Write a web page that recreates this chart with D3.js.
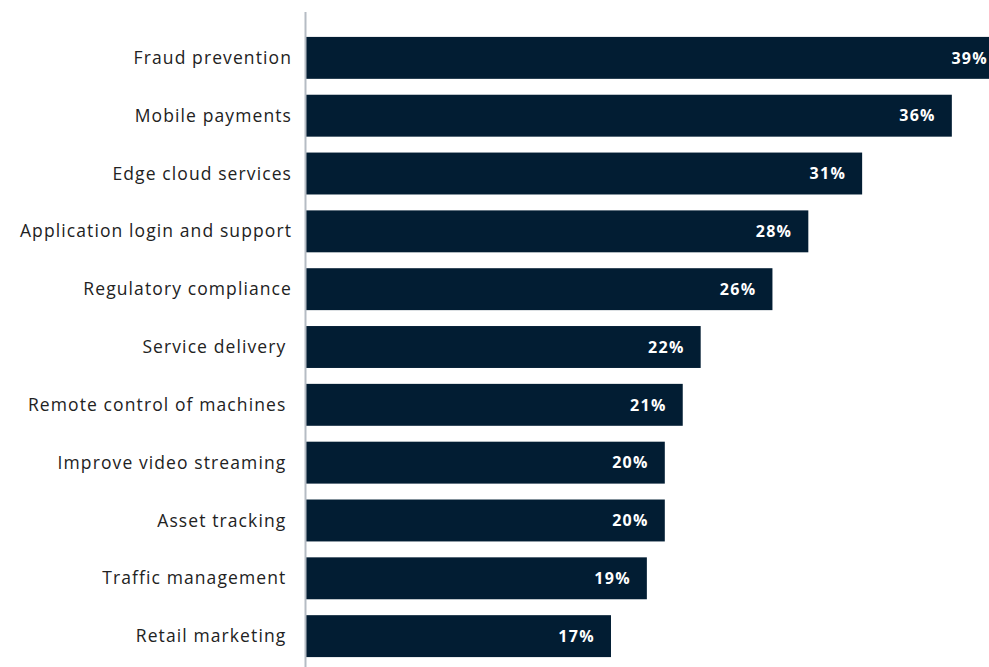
<!DOCTYPE html>
<html>
<head>
<meta charset="utf-8">
<script src="https://cdn.jsdelivr.net/npm/d3@7"></script>
<style>
  html, body { margin: 0; padding: 0; background: #fff; }
  svg { display: block; }
  .cat { white-space: pre; }
</style>
</head>
<body>
<svg id="chart" width="989" height="667"></svg>
<script>
// Use cases, top to bottom
const categories = [
  "Fraud prevention",
  "Mobile payments",
  "Edge cloud services",
  "Application login and support",
  "Regulatory compliance",
  "Service delivery ",
  "Remote control of machines ",
  "Improve video streaming ",
  "Asset tracking ",
  "Traffic management ",
  "Retail marketing "
];
// Share of respondents (%)
const values = [39, 36, 31, 28, 26, 22, 21, 20, 20, 19, 17];

const width = 989, height = 667;
const svg = d3.select("#chart");

const axisX = 306;
const x = d3.scaleLinear().domain([0, 10]).range([axisX, axisX + 179.4]);
const y = d3.scaleBand()
  .domain(categories)
  .range([26.5, 667.5])
  .paddingInner(0.275)
  .paddingOuter(0.18);

// bars
svg.append("g").selectAll("rect")
  .data(values)
  .join("rect")
  .attr("x", x(0))
  .attr("y", (d, i) => y(categories[i]))
  .attr("width", d => x(d) - x(0))
  .attr("height", y.bandwidth())
  .attr("fill", "#021d33");

// vertical baseline
svg.append("line")
  .attr("x1", axisX - 0.5).attr("x2", axisX - 0.5)
  .attr("y1", 12).attr("y2", height)
  .attr("stroke", "#b5bcc4")
  .attr("stroke-width", 2);

// category labels
svg.append("g").selectAll("text")
  .data(categories)
  .join("text")
  .attr("class", "cat")
  .attr("x", 292)
  .attr("y", d => y(d) + y.bandwidth() / 2)
  .attr("dy", "0.35em")
  .attr("text-anchor", "end")
  .attr("font-family", "'Open Sans', 'Noto Sans', sans-serif")
  .attr("font-size", 17.5)
  .attr("letter-spacing", 1.1)
  .attr("fill", "#222")
  .text(d => d);

// value labels inside bar ends
svg.append("g").selectAll("text")
  .data(values)
  .join("text")
  .attr("x", d => Math.min(x(d) - 16, 988))
  .attr("y", (d, i) => y(categories[i]) + y.bandwidth() / 2)
  .attr("dy", "0.36em")
  .attr("text-anchor", "end")
  .attr("font-family", "'Open Sans', 'Noto Sans', sans-serif")
  .attr("font-weight", 700)
  .attr("font-size", 16)
  .attr("letter-spacing", 1.3)
  .attr("fill", "#fff")
  .text(d => d + "%");
</script>
</body>
</html>
